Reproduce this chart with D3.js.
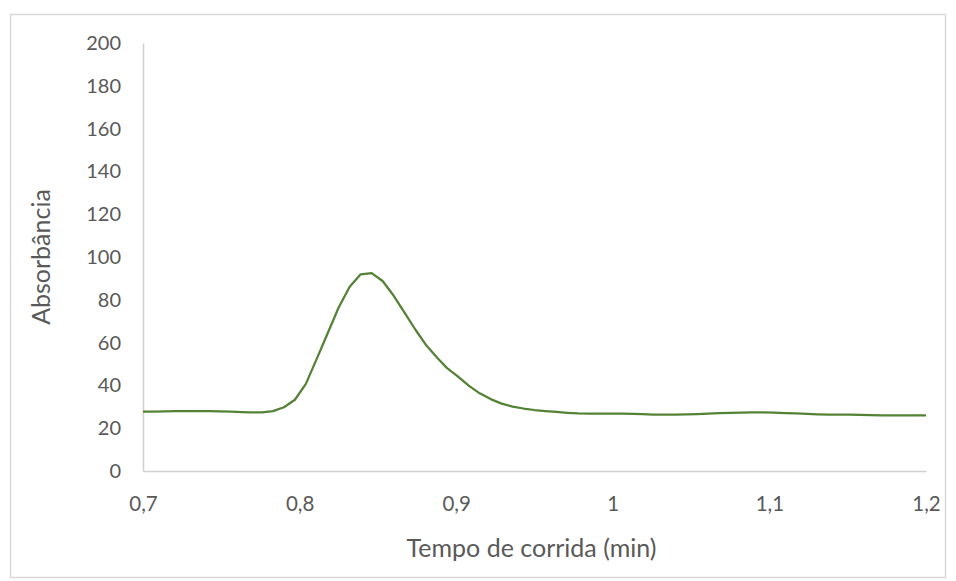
<!DOCTYPE html>
<html>
<head>
<meta charset="utf-8">
<script src="https://cdn.jsdelivr.net/npm/d3@7"></script>
<style>
  html, body { margin: 0; padding: 0; background: #ffffff; }
  svg { display: block; }
</style>
</head>
<body>
<svg id="chart" width="956" height="581"></svg>
<script>
// ---- Data ----
const times = [0.700,0.707,0.714,0.721,0.728,0.735,0.742,0.749,0.756,0.763,0.769,0.776,0.783,0.790,0.797,0.804,0.811,0.818,0.825,0.832,0.839,0.846,0.853,0.860,0.867,0.874,0.881,0.888,0.894,0.901,0.908,0.915,0.922,0.929,0.936,0.943,0.950,0.957,0.964,0.971,0.978,0.985,0.992,0.999,1.006,1.013,1.019,1.026,1.033,1.040,1.047,1.054,1.061,1.068,1.075,1.082,1.089,1.096,1.103,1.110,1.117,1.124,1.131,1.138,1.144,1.151,1.158,1.165,1.172,1.179,1.186,1.193,1.200];
const absorbance = [27.8,27.8,27.9,28.0,28.0,28.0,28.0,27.9,27.7,27.5,27.4,27.4,28.0,29.8,33.3,40.7,52.5,64.5,76.5,86.1,91.9,92.5,88.8,82.0,74.0,66.0,58.6,52.8,48.2,44.2,39.9,36.3,33.6,31.5,30.1,29.2,28.5,28.0,27.6,27.2,26.9,26.8,26.8,26.8,26.8,26.7,26.6,26.4,26.3,26.4,26.5,26.6,26.8,27.0,27.2,27.3,27.4,27.4,27.3,27.1,26.9,26.7,26.5,26.4,26.3,26.3,26.2,26.1,26.0,26.0,26.0,26.0,26.0];
const xTicks = [0.7, 0.8, 0.9, 1.0, 1.1, 1.2];
const xTickLabels = ["0,7", "0,8", "0,9", "1", "1,1", "1,2"];
const yTicks = [0, 20, 40, 60, 80, 100, 120, 140, 160, 180, 200];
const xTitle = "Tempo de corrida (min)";
const yTitle = "Absorbância";

// ---- Layout ----
const plot = { left: 143, right: 926, top: 43, bottom: 471 };
const font = "Lato, 'Open Sans', sans-serif";
const textColor = "#595959";
const axisColor = "#d0d0d0";
const lineColor = "#548235";

const svg = d3.select("#chart");

// outer chart border
svg.append("rect")
  .attr("x", 10.5).attr("y", 14.5)
  .attr("width", 935).attr("height", 563)
  .attr("fill", "#ffffff")
  .attr("stroke", "#d9d9d9")
  .attr("stroke-width", 1.5);

const x = d3.scaleLinear().domain([0.7, 1.2]).range([plot.left, plot.right]);
const y = d3.scaleLinear().domain([0, 200]).range([plot.bottom, plot.top]);

// y axis
const yAxis = d3.axisLeft(y).tickValues(yTicks).tickSize(0).tickPadding(22).tickFormat(d3.format("d"));
const gy = svg.append("g").attr("transform", `translate(${plot.left},0)`).call(yAxis);
gy.select(".domain").attr("stroke", axisColor).attr("stroke-width", 1.5);
gy.selectAll("text").attr("font-family", font).attr("font-size", 20).attr("fill", textColor);

// x axis
const xAxis = d3.axisBottom(x).tickValues(xTicks).tickSize(0).tickPadding(25)
  .tickFormat((d, i) => xTickLabels[i]);
const gx = svg.append("g").attr("transform", `translate(0,${plot.bottom})`).call(xAxis);
gx.select(".domain").attr("stroke", axisColor).attr("stroke-width", 1.5);
gx.selectAll("text").attr("font-family", font).attr("font-size", 20.5).attr("fill", textColor);

// data line
const data = times.map((t, i) => ({ t, v: absorbance[i] }));
svg.append("path")
  .datum(data)
  .attr("fill", "none")
  .attr("stroke", lineColor)
  .attr("stroke-width", 2.25)
  .attr("stroke-linejoin", "round")
  .attr("d", d3.line().x(d => x(d.t)).y(d => y(d.v)));

// axis titles
svg.append("text")
  .attr("x", (plot.left + plot.right) / 2 - 3)
  .attr("y", 557)
  .attr("text-anchor", "middle")
  .attr("font-family", font)
  .attr("font-size", 25)
  .attr("fill", textColor)
  .text(xTitle);

svg.append("text")
  .attr("transform", `translate(50,${(plot.top + plot.bottom) / 2}) rotate(-90)`)
  .attr("text-anchor", "middle")
  .attr("font-family", font)
  .attr("font-size", 25)
  .attr("fill", textColor)
  .text(yTitle);
</script>
</body>
</html>
